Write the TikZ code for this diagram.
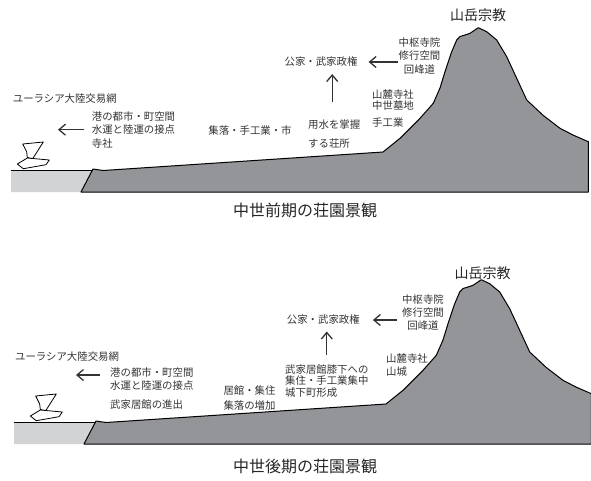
\documentclass[tikz,border=0pt]{standalone}
\usepackage{fontspec}
\setmainfont{Noto Sans CJK JP}
\usepackage{tikz}
\usetikzlibrary{arrows.meta}

\definecolor{landgray}{HTML}{939598}
\definecolor{seagray}{HTML}{D1D3D4}

\begin{document}
\begin{tikzpicture}[x=1pt, y=-1pt,
	lbl/.style={font=\fontsize{10.4}{13.5}\selectfont, inner sep=0pt, text=black!80},
	peak/.style={font=\fontsize{14}{16}\selectfont, inner sep=0pt, text=black!85},
	ttl/.style={font=\fontsize{16}{18}\selectfont, inner sep=0pt, text=black!85},
	arr/.style={line width=1.3pt, draw=black!80, -{Straight Barb[length=6.5pt, width=11pt]}}]
		%\draw [help lines] (0,0) grid[step=20] (591,480);
		\useasboundingbox (0,0) rectangle (591,480);
		% sea, land and mountain, the same in both panels
		\foreach \dx/\dy/\bx in {0/0/0, 3/252/10} {
			\begin{scope}[shift={(\dx,\dy)}]
				\fill[seagray] (11,170) -- (93,170) -- (81,192) -- (11,192) -- cycle;
				\draw[thick] (11,170) -- (93,170);
				\draw[fill=landgray, line width=1pt, line join=round] (93,169) -- (103,170.5) -- (383,152)
					-- (400,138.3) -- (420,118.3) -- (433.3,103.3) -- (440,88) -- (445,71.7)
					-- (451.7,51.7) -- (456.7,40) -- (460,36.5) -- (465,35) -- (470,33.3)
					-- (478.3,27.7) -- (486.7,31.7) -- (496.7,40) -- (506.7,56.7) -- (516.7,78.3)
					-- (526.7,100) -- (543.3,115.5) -- (560,128.3) -- (573,135) -- (588.3,141.7)
					-- (588.3,192) -- (81,192) -- cycle;
				% boat
				\begin{scope}[shift={(\bx,0)}, line width=0.8pt, line join=round]
					\draw[fill=white] (22.7,144) -- (43.3,142) -- (32.7,158.7) -- (27.3,157.5) -- (26.7,152) -- cycle;
					\draw[fill=white] (17.3,164) -- (27.3,158) -- (49.3,160) -- (46,164.7) -- (23.3,168.7) -- cycle;
				\end{scope}
			\end{scope}
		}

		% early period
		\node[peak] (sangaku) at (478,15) {山岳宗教};
		\node[lbl, align=center] (chusu) at (419.5,56) {中枢寺院\\修行空間\\回峰道};
		\node[lbl] (kuge) at (321,62) {公家・武家政権};
		\node[lbl, align=left, anchor=west] (yosui) at (308,134) {用水を掌握\\[4.8pt]する荘所};
		\node[lbl, align=left, anchor=west] (sanroku) at (372,108.5) {山麓寺社\\[-2pt]中世墓地\\[3pt]手工業};
		\node[lbl] (shuraku) at (250,131) {集落・手工業・市};
		\node[lbl, anchor=west] (eurasia) at (12.7,98.3) {ユーラシア大陸交易網};
		\node[lbl, align=left, anchor=west] (minato) at (91.7,129.7) {港の都市・町空間\\水運と陸運の接点\\寺社};
		\coordinate (sea) at (58,129.7);
		\node[ttl] (early) at (305,210) {中世前期の荘園景観};

		\draw[arr, shorten <=1pt, shorten >=11pt] (kuge.east -| chusu.west) -- (kuge.east);
		\draw[arr, shorten <=18pt, shorten >=7pt] ([xshift=-2pt]yosui.north) -- ([xshift=-2pt]yosui.north |- kuge.south);
		\draw[arr, shorten <=8pt] (minato.west) -- (sea);

		% late period
		\node[peak] (sangaku2) at (482.5,273.3) {山岳宗教};
		\node[lbl, align=center] (chusu2) at (423,313) {中枢寺院\\[-0.5pt]修行空間\\[-0.5pt]回峰道};
		\node[lbl] (kuge2) at (323.3,320) {公家・武家政権};
		\node[lbl, align=left, anchor=west] (buke) at (285,381) {武家居館膝下への\\[-1.8pt]集住・手工業集中\\[-1.8pt]城下町形成};
		\node[lbl, align=left, anchor=west] (sanroku2) at (386,365) {山麓寺社\\山城};
		\node[lbl, align=center] (kyokan) at (249.5,398) {居館・集住\\[0.8pt]集落の増加};
		\node[lbl, anchor=west] (eurasia2) at (15,356.7) {ユーラシア大陸交易網};
		\node[lbl, align=left, anchor=west] (minato2) at (110,388.8) {港の都市・町空間\\[-0.5pt]水運と陸運の接点\\[5.8pt]武家居館の進出};
		\coordinate (sea2) at (76,375);
		\node[ttl] (late) at (305,466.7) {中世後期の荘園景観};

		\draw[arr, shorten <=5pt, shorten >=13pt] (kuge2.east -| chusu2.west) -- (kuge2.east);
		\draw[arr, shorten <=9pt, shorten >=6.5pt] (buke.north) -- (buke.north |- kuge2.south);
		\draw[arr, shorten <=10pt] (sea2 -| minato2.west) -- (sea2);
	\end{tikzpicture}
\end{document}
